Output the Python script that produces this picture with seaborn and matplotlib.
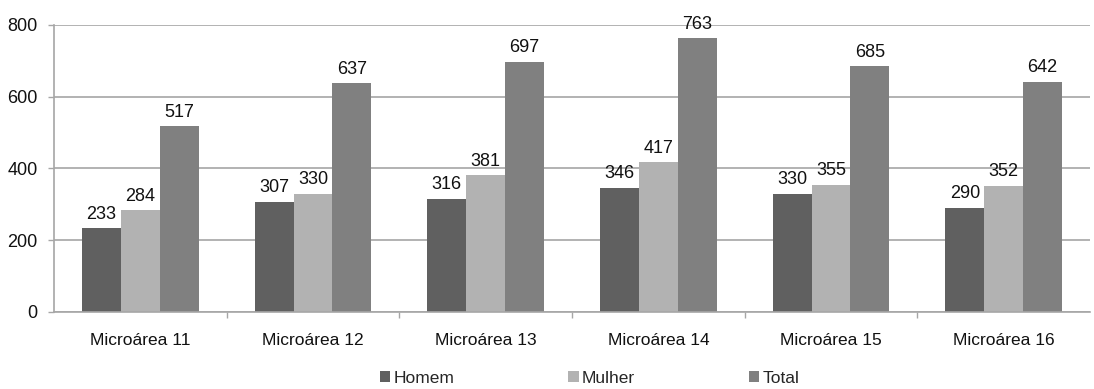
import matplotlib
matplotlib.use("Agg")
import matplotlib.pyplot as plt
import seaborn as sns
import pandas as pd
from matplotlib.patches import Patch
from matplotlib.ticker import FixedLocator

categories = ["Microárea 11", "Microárea 12", "Microárea 13", "Microárea 14", "Microárea 15", "Microárea 16"]
homem = [233, 307, 316, 346, 330, 290]
mulher = [284, 330, 381, 417, 355, 352]
total = [517, 637, 697, 763, 685, 642]
series = ["Homem", "Mulher", "Total"]
colors = ["#606060", "#b2b2b2", "#808080"]

df = pd.DataFrame({
    "area": categories * 3,
    "serie": [s for s in series for _ in categories],
    "valor": homem + mulher + total,
})

sns.set_theme(style="white")
plt.rcParams["font.family"] = ["Liberation Sans", "DejaVu Sans"]

fig = plt.figure(figsize=(10.94, 3.89), dpi=100)
ax = fig.add_axes([0.0494, 0.198, 0.947, 0.738])

sns.barplot(data=df, x="area", y="valor", hue="serie", palette=colors,
            width=0.675, saturation=1, ax=ax, legend=False, linewidth=0)

for cont in ax.containers:
    ax.bar_label(cont, fmt="%d", padding=4, fontsize=13, color="#111111")

ax.set_ylim(0, 800)
ax.set_xlim(-0.5, len(categories) - 0.5)
ax.set_yticks([0, 200, 400, 600, 800])
ax.yaxis.grid(True, color="#a6a6a6", linewidth=1.2)
ax.set_axisbelow(True)
ax.set_xlabel("")
ax.set_ylabel("")

for side in ["top", "right"]:
    ax.spines[side].set_visible(False)
for side in ["left", "bottom"]:
    ax.spines[side].set_color("#a6a6a6")
    ax.spines[side].set_linewidth(1.2)

ax.tick_params(axis="x", which="major", length=0, pad=15, labelsize=12.5, colors="#111111")
ax.tick_params(axis="y", which="major", length=4, width=1, color="#a6a6a6", pad=8,
               labelsize=13, labelcolor="#111111", left=True)
ax.xaxis.set_minor_locator(FixedLocator([i + 0.5 for i in range(len(categories) - 1)]))
ax.tick_params(axis="x", which="minor", length=4, width=1, color="#a6a6a6", bottom=True)

handles = [Patch(facecolor=c, edgecolor="none") for c in colors]
fig.legend(handles, series, loc="center left", bbox_to_anchor=(0.347, 0.028), ncol=3,
           frameon=False, fontsize=12.5, handlelength=0.6, handleheight=0.6,
           handletextpad=0.2, columnspacing=6.55, borderaxespad=0, borderpad=0)

fig.savefig("out.png", dpi=100)
